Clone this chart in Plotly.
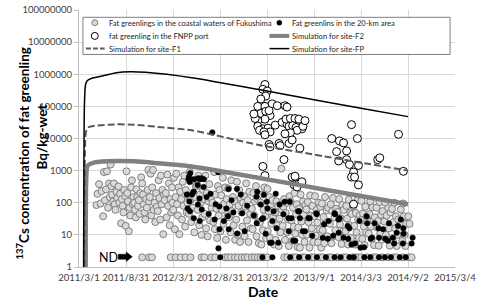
import plotly.graph_objects as go
import math

# ---------------- data ----------------
x_tick_vals = ["2011-03-01", "2011-08-31", "2012-03-01", "2012-08-31", "2013-03-02",
               "2013-09-01", "2014-03-03", "2014-09-02", "2015-03-04"]
x_tick_text = ["2011/3/1", "2011/8/31", "2012/3/1", "2012/8/31", "2013/3/2",
               "2013/9/1", "2014/3/3", "2014/9/2", "2015/3/4"]
y_tick_vals = [1, 10, 100, 1000, 10000, 100000, 1000000, 10000000, 100000000]
y_tick_text = ["1", "10", "100", "1000", "10000", "100000", "1000000", "10000000", "100000000"]

# Fat greenlings in the coastal waters of Fukushima (month -> (day, Bq/kg))
coastal = {
    "2011-05": [(8, 85), (12, 190), (18, 380), (24, 95), (28, 230)],
    "2011-06": [(3, 38), (6, 900), (10, 120), (14, 260), (18, 950), (22, 70), (26, 400), (29, 150)],
    "2011-07": [(2, 1550), (5, 330), (8, 180), (12, 110), (15, 400), (18, 90), (21, 60), (25, 220), (28, 140)],
    "2011-08": [(2, 320), (5, 100), (8, 190), (12, 23), (15, 130), (18, 80), (21, 50), (24, 250), (28, 160), (30, 19)],
    "2011-09": [(2, 950), (5, 200), (8, 110), (11, 13), (14, 70), (17, 40), (20, 300), (23, 500), (26, 90), (29, 150)],
    "2011-10": [(2, 100), (5, 60), (8, 35), (11, 260), (14, 150), (17, 80), (20, 120), (23, 45), (26, 200), (29, 620)],
    "2011-11": [(2, 400), (5, 180), (8, 90), (11, 50), (14, 30), (17, 130), (20, 70), (23, 250), (26, 1050), (29, 110)],
    "2011-12": [(2, 150), (5, 800), (8, 40), (11, 300), (14, 1050), (17, 60), (20, 100), (23, 25), (26, 200), (29, 75)],
    "2012-01": [(2, 55), (5, 500), (8, 140), (11, 30), (14, 700), (17, 90), (20, 250), (23, 10.5), (26, 180), (29, 120)],
    "2012-02": [(2, 200), (5, 35), (8, 750), (11, 80), (14, 400), (17, 20), (20, 130), (23, 50), (26, 300), (28, 100)],
    "2012-03": [(2, 60), (5, 600), (8, 15), (11, 150), (14, 800), (17, 90), (20, 40), (23, 300), (26, 10.5), (29, 220)],
    "2012-04": [(2, 130), (5, 30), (8, 450), (11, 80), (14, 700), (17, 18), (20, 250), (23, 50), (26, 100), (29, 170)],
    "2012-05": [(2, 45), (5, 900), (8, 120), (11, 25), (14, 500), (17, 70), (20, 200), (23, 12), (26, 150), (29, 320)],
    "2012-06": [(2, 350), (5, 60), (8, 700), (11, 20), (14, 180), (17, 100), (20, 10), (23, 35), (26, 250), (29, 130)],
    "2012-07": [(2, 45), (5, 700), (8, 16), (11, 200), (14, 9), (17, 110), (20, 380), (23, 28), (26, 140), (29, 70)],
    "2012-08": [(2, 100), (5, 25), (8, 900), (11, 15), (14, 180), (17, 65), (20, 8), (23, 330), (26, 40), (29, 250)],
    "2012-09": [(2, 13), (5, 170), (8, 60), (11, 600), (14, 22), (17, 95), (20, 300), (23, 7), (26, 130), (29, 38)],
    "2012-10": [(2, 280), (5, 35), (8, 90), (11, 12), (14, 500), (17, 55), (20, 150), (23, 20), (26, 110), (29, 7)],
    "2012-11": [(2, 30), (5, 450), (8, 10), (11, 80), (14, 250), (17, 6), (20, 140), (23, 50), (26, 18), (29, 100)],
    "2012-12": [(2, 160), (5, 9), (8, 75), (11, 400), (14, 28), (17, 120), (20, 6), (23, 220), (26, 45), (29, 16)],
    "2013-01": [(2, 65), (5, 15), (8, 200), (11, 40), (14, 110), (18, 330), (20, 9), (23, 130), (26, 25), (29, 5.5)],
    "2013-02": [(2, 24), (5, 100), (8, 5), (11, 180), (14, 14), (17, 60), (20, 300), (23, 38), (26, 8), (28, 90)],
    "2013-03": [(4, 270), (5, 13), (8, 55), (11, 150), (14, 8), (17, 90), (20, 22), (23, 120), (26, 35), (29, 5)],
    "2013-04": [(2, 50), (5, 7), (8, 110), (11, 20), (14, 80), (17, 4.5), (20, 32), (23, 12), (27, 1160), (29, 60)],
    "2013-05": [(2, 19), (5, 75), (8, 130), (11, 7), (14, 48), (17, 100), (20, 12), (23, 30), (26, 4.5), (29, 160)],
    "2013-06": [(2, 110), (5, 28), (8, 6.5), (11, 70), (14, 18), (17, 200), (20, 11), (23, 45), (26, 90), (29, 4.2)],
    "2013-07": [(2, 17), (5, 65), (8, 4), (11, 180), (14, 26), (17, 10), (20, 110), (23, 42), (26, 6), (29, 85)],
    "2013-08": [(2, 62), (5, 10), (8, 105), (11, 25), (14, 4), (17, 170), (20, 40), (23, 16), (26, 80), (29, 6)],
    "2013-09": [(2, 38), (5, 160), (8, 9.5), (11, 60), (14, 24), (17, 5.8), (20, 100), (23, 15), (26, 75), (29, 4)],
    "2013-10": [(2, 95), (5, 14), (8, 36), (11, 5.5), (14, 150), (17, 23), (20, 58), (23, 9), (26, 70)],
    "2013-11": [(2, 22), (5, 90), (8, 5.5), (11, 55), (14, 140), (17, 9), (20, 35), (23, 14), (26, 65)],
    "2013-12": [(2, 52), (5, 8.5), (8, 130), (11, 21), (14, 33), (17, 5.2), (20, 85), (23, 13), (26, 60)],
    "2014-01": [(2, 13), (5, 80), (8, 32), (11, 5), (14, 125), (17, 20), (20, 50), (23, 8), (26, 45)],
    "2014-02": [(2, 78), (5, 19), (8, 5), (11, 48), (14, 12), (17, 120), (20, 30), (23, 8), (26, 40)],
    "2014-03": [(2, 29), (5, 115), (8, 7.5), (11, 46), (14, 18), (17, 4.8), (20, 75), (23, 12), (26, 38)],
    "2014-04": [(2, 11), (5, 44), (8, 110), (11, 18), (14, 7.5), (17, 72), (20, 28), (23, 4.8), (26, 35)],
    "2014-05": [(2, 70), (5, 17), (8, 27), (11, 4.6), (14, 105), (17, 11), (20, 42), (23, 7), (26, 55)],
    "2014-06": [(2, 26), (5, 100), (8, 10), (11, 40), (14, 7), (17, 68), (20, 16), (23, 4.6), (26, 50)],
    "2014-07": [(2, 65), (5, 6.5), (8, 25), (11, 100), (14, 16), (17, 38), (20, 4.5), (23, 10), (26, 30)],
    "2014-08": [(2, 15), (5, 62), (8, 24), (11, 6.5), (14, 95), (17, 38), (20, 10), (23, 4.5), (26, 22)],
    "2014-09": [(3, 38), (8, 22)],
}

# Not-detected samples, plotted at 2 Bq/kg
nd_value = 2
coastal_nd_dates = [
    "2011-11-02", "2011-11-29", "2011-12-10", "2012-02-21", "2012-03-12", "2012-03-31", "2012-04-19",
    "2012-05-08", "2012-06-20", "2012-07-01", "2012-07-28", "2012-08-12", "2012-09-20", "2012-10-01",
    "2012-10-13", "2012-10-28", "2012-11-09", "2012-11-24", "2012-12-06", "2012-12-17", "2013-01-02",
    "2013-01-13", "2013-01-25", "2013-02-05", "2013-02-17", "2013-03-04", "2013-05-08", "2013-05-20",
    "2013-06-12", "2013-06-23", "2013-07-17", "2013-07-28", "2013-08-20", "2013-09-01", "2013-09-24",
    "2013-10-05", "2013-10-28", "2013-11-09", "2013-12-02", "2013-12-25", "2014-01-05", "2014-01-28",
    "2014-02-09", "2014-02-21", "2014-03-04", "2014-03-27", "2014-04-19", "2014-05-01", "2014-05-24",
    "2014-06-16", "2014-07-09", "2014-07-20", "2014-08-13", "2014-09-05", "2014-09-16",
]
area20_nd_dates = [
    "2012-09-01", "2013-02-12", "2013-03-23", "2013-05-31", "2013-07-05", "2013-08-09", "2013-09-12",
    "2013-10-17", "2013-11-20", "2013-12-13", "2014-01-17", "2014-02-03", "2014-03-16", "2014-04-08",
    "2014-05-12", "2014-06-04", "2014-06-27", "2014-08-01", "2014-08-24",
]

# Fat greenlings in the 20-km area
area20 = [
    ("2012-04-24", 180), ("2012-04-27", 66), ("2012-05-01", 540), ("2012-05-02", 630), ("2012-05-04", 110),
    ("2012-05-05", 440), ("2012-05-06", 54), ("2012-05-07", 830), ("2012-05-14", 180), ("2012-05-20", 220),
    ("2012-05-21", 33), ("2012-05-22", 540), ("2012-06-05", 360), ("2012-06-06", 88), ("2012-06-07", 580),
    ("2012-06-12", 135), ("2012-06-13", 27), ("2012-06-15", 540), ("2012-06-20", 580), ("2012-06-21", 62),
    ("2012-06-28", 310), ("2012-06-29", 540), ("2012-07-10", 150), ("2012-07-18", 45), ("2012-07-25", 190),
    ("2012-08-01", 15500), ("2012-08-10", 30), ("2012-08-14", 90), ("2012-08-25", 3.8), ("2012-08-24", 890),
    ("2012-08-28", 77), ("2012-08-29", 15), ("2012-09-15", 27), ("2012-09-25", 66), ("2012-10-01", 38),
    ("2012-10-03", 270), ("2012-10-04", 15), ("2012-10-15", 120), ("2012-10-22", 50), ("2012-11-05", 270),
    ("2012-11-06", 11), ("2012-11-20", 180), ("2012-11-25", 47), ("2012-12-05", 13), ("2012-12-15", 80),
    ("2013-01-10", 40), ("2013-01-20", 155), ("2013-01-21", 23), ("2013-01-23", 219), ("2013-02-05", 88),
    ("2013-02-10", 31), ("2013-02-15", 33), ("2013-02-18", 178), ("2013-02-25", 10.8), ("2013-03-01", 108),
    ("2013-03-04", 66), ("2013-03-14", 5.7), ("2013-03-20", 5.7), ("2013-03-23", 27), ("2013-03-28", 54),
    ("2013-04-05", 190), ("2013-04-08", 16), ("2013-04-15", 5.7), ("2013-04-20", 88), ("2013-05-05", 44),
    ("2013-05-10", 108), ("2013-05-25", 33), ("2013-05-26", 13), ("2013-05-30", 108), ("2013-06-05", 33),
    ("2013-06-12", 6.6), ("2013-06-20", 6.6), ("2013-07-01", 54), ("2013-07-05", 54), ("2013-07-08", 33),
    ("2013-07-20", 13), ("2013-07-28", 13), ("2013-08-10", 33), ("2013-08-15", 33), ("2013-08-25", 9.4),
    ("2013-09-10", 47), ("2013-09-12", 44), ("2013-10-05", 8.2), ("2013-10-10", 21.6), ("2013-10-25", 7.6),
    ("2013-10-28", 27), ("2013-11-15", 9.4), ("2013-11-20", 47), ("2013-11-22", 44), ("2013-12-05", 30),
    ("2013-12-06", 11.6), ("2013-12-10", 33), ("2013-12-25", 8.2), ("2014-01-10", 19), ("2014-01-12", 7.6),
    ("2014-01-17", 16), ("2014-01-25", 5), ("2014-02-08", 5.4), ("2014-02-25", 27), ("2014-03-01", 4),
    ("2014-03-15", 4.1), ("2014-03-25", 38), ("2014-03-27", 23), ("2014-04-10", 7.6), ("2014-04-15", 8.2),
    ("2014-04-25", 23), ("2014-05-10", 16), ("2014-05-12", 8.2), ("2014-05-28", 15), ("2014-06-05", 7.6),
    ("2014-06-16", 6.6), ("2014-06-20", 23), ("2014-07-05", 8.2), ("2014-07-10", 5.4), ("2014-07-20", 11.6),
    ("2014-07-25", 19), ("2014-08-05", 30), ("2014-08-13", 5.4), ("2014-08-15", 16), ("2014-08-16", 10.8),
    ("2014-09-16", 5.4), ("2014-09-20", 8.2),
]

# fat greenling in the FNPP port
port = [
    ("2013-02-22", 480000), ("2013-02-14", 340000), ("2013-03-03", 300000), ("2013-02-25", 210000),
    ("2013-02-06", 170000), ("2013-01-25", 100000), ("2013-02-22", 100000), ("2013-03-22", 120000),
    ("2013-04-11", 105000), ("2013-05-11", 105000), ("2013-05-19", 95000), ("2013-01-20", 50000),
    ("2013-02-06", 60000), ("2013-02-25", 70000), ("2013-03-14", 52000), ("2013-02-22", 40000),
    ("2013-01-25", 36000), ("2013-01-15", 42000), ("2013-01-10", 58000), ("2013-03-10", 74000),
    ("2013-01-25", 24000), ("2013-02-14", 20000), ("2013-02-01", 18000), ("2013-03-06", 21000),
    ("2013-03-14", 16000), ("2013-02-18", 16000), ("2013-02-22", 13000), ("2013-04-03", 26000),
    ("2013-04-30", 32000), ("2013-05-19", 28000), ("2013-05-27", 24000), ("2013-05-15", 40000),
    ("2013-06-01", 42000), ("2013-06-19", 42000), ("2013-07-04", 40000), ("2013-06-10", 25000),
    ("2013-06-23", 22000), ("2013-07-16", 20000), ("2013-06-27", 18000), ("2013-06-01", 15000),
    ("2013-05-11", 14000), ("2013-07-20", 24000), ("2013-07-28", 36000), ("2013-03-10", 6500),
    ("2013-03-14", 5500), ("2013-04-18", 7000), ("2013-04-22", 6000), ("2013-05-27", 7000),
    ("2013-06-08", 9000), ("2013-07-08", 5000), ("2013-05-07", 2200), ("2013-02-14", 1350),
    ("2013-02-22", 700), ("2013-06-08", 630), ("2013-06-19", 670), ("2013-06-16", 360),
    ("2013-07-04", 380), ("2013-06-27", 310), ("2013-07-16", 450),
    ("2013-11-09", 10000), ("2013-12-09", 8400), ("2013-12-25", 7300), ("2013-11-28", 3900),
    ("2014-01-06", 4100), ("2013-12-06", 2000), ("2014-01-06", 2200), ("2014-01-17", 1550),
    ("2014-02-21", 1450), ("2014-02-02", 900), ("2014-01-25", 630), ("2014-02-06", 630),
    ("2014-02-21", 360), ("2014-02-02", 90), ("2014-01-25", 27000), ("2014-02-17", 10000),
    ("2014-05-07", 2200), ("2014-05-15", 2500), ("2014-07-27", 13500), ("2014-08-15", 950),
]

# Simulations (date, Bq/kg)
sim_f2 = [("2011-03-27", 1), ("2011-03-29", 500), ("2011-04-03", 1400), ("2011-05-01", 1800),
          ("2011-07-25", 2000), ("2011-10-01", 1950), ("2012-01-01", 1700), ("2012-05-13", 1350),
          ("2013-01-25", 600), ("2013-10-09", 260), ("2014-09-02", 90)]
sim_f1 = [("2011-03-22", 1), ("2011-03-24", 4000), ("2011-03-28", 16000), ("2011-04-05", 22000),
          ("2011-05-01", 25000), ("2011-07-25", 27500), ("2011-10-01", 27000), ("2012-01-01", 23000),
          ("2012-05-13", 18000), ("2013-01-25", 6400), ("2013-10-09", 2800), ("2014-09-02", 1000)]
sim_fp = [("2011-03-19", 1), ("2011-03-22", 100000), ("2011-03-26", 450000), ("2011-04-01", 620000),
          ("2011-04-20", 750000), ("2011-05-21", 850000), ("2011-07-25", 1120000), ("2011-09-15", 1200000),
          ("2011-11-15", 1150000), ("2012-05-13", 780000), ("2013-01-25", 340000), ("2013-09-01", 160000),
          ("2014-03-03", 88000), ("2014-09-02", 48000)]

legend_names = ["Fat greenlings in the coastal waters of Fukushima", "Fat greenlins in the 20-km area",
                "fat greenling in the FNPP port", "Simulation for site-F2",
                "Simulation for site-F1", "Simulation for site-FP"]

# ---------------- build ----------------
cx, cy = [], []
for m, pairs in coastal.items():
    for d, v in pairs:
        cx.append(f"{m}-{d:02d}")
        cy.append(v)
cx += coastal_nd_dates
cy += [nd_value] * len(coastal_nd_dates)

bx = [d for d, v in area20] + area20_nd_dates
by = [v for d, v in area20] + [nd_value] * len(area20_nd_dates)

FONT = "Lato"
fig = go.Figure()
fig.add_trace(go.Scatter(x=cx, y=cy, mode="markers", name=legend_names[0], showlegend=False,
                         marker=dict(size=7, color="#d9d9d9", line=dict(color="#7f7f7f", width=1))))
fig.add_trace(go.Scatter(x=bx, y=by, mode="markers", name=legend_names[1], showlegend=False,
                         marker=dict(size=5.5, color="#000000", line=dict(color="#000000", width=0.5))))
fig.add_trace(go.Scatter(x=[d for d, v in port], y=[v for d, v in port], mode="markers",
                         name=legend_names[2], showlegend=False,
                         marker=dict(size=8, color="#ffffff", line=dict(color="#000000", width=1))))
fig.add_trace(go.Scatter(x=[d for d, v in sim_f2], y=[v for d, v in sim_f2], mode="lines",
                         name=legend_names[3], showlegend=False,
                         line=dict(color="#808080", width=4.5, shape="spline", smoothing=0.6)))
fig.add_trace(go.Scatter(x=[d for d, v in sim_f1], y=[v for d, v in sim_f1], mode="lines",
                         name=legend_names[4], showlegend=False,
                         line=dict(color="#595959", width=2, dash="7px,3px", shape="spline", smoothing=0.6)))
fig.add_trace(go.Scatter(x=[d for d, v in sim_fp], y=[v for d, v in sim_fp], mode="lines",
                         name=legend_names[5], showlegend=False,
                         line=dict(color="#000000", width=1.5, shape="spline", smoothing=0.6)))

# ---------------- manual legend ----------------
box = dict(x0=0.0105, x1=0.9869, y0=0.827, y1=0.9715)
rows = [0.9506, 0.8992, 0.8498]
col_sym = [0.042, 0.5328]
col_line = [(0.0184, 0.0682), (0.5066, 0.5591)]
col_text = [0.0735, 0.5617]
shapes = [dict(type="rect", xref="paper", yref="paper", x0=box["x0"], x1=box["x1"], y0=box["y0"],
               y1=box["y1"], line=dict(color="#7f7f7f", width=1), fillcolor="#ffffff", layer="above")]
annotations = []


def circ(xp, yp, r, fill, lc, lw):
    return dict(type="circle", xref="paper", yref="paper", xsizemode="pixel", ysizemode="pixel",
                xanchor=xp, yanchor=yp, x0=-r, x1=r, y0=-r, y1=r, fillcolor=fill,
                line=dict(color=lc, width=lw), layer="above")


shapes.append(circ(col_sym[0], rows[0], 3, "#d9d9d9", "#7f7f7f", 1))
shapes.append(circ(col_sym[1], rows[0], 2.5, "#000000", "#000000", 0.5))
shapes.append(circ(col_sym[0], rows[1], 3.5, "#ffffff", "#000000", 1))
shapes.append(dict(type="line", xref="paper", yref="paper", x0=col_line[1][0], x1=col_line[1][1],
                   y0=rows[1], y1=rows[1], line=dict(color="#808080", width=4), layer="above"))
shapes.append(dict(type="line", xref="paper", yref="paper", x0=col_line[0][0], x1=col_line[0][1],
                   y0=rows[2], y1=rows[2], line=dict(color="#595959", width=2, dash="5px,2px"), layer="above"))
shapes.append(dict(type="line", xref="paper", yref="paper", x0=col_line[1][0], x1=col_line[1][1],
                   y0=rows[2], y1=rows[2], line=dict(color="#000000", width=1.5), layer="above"))
order = [(0, 0), (1, 0), (0, 1), (1, 1), (0, 2), (1, 2)]
for name, (c, r) in zip(legend_names, order):
    annotations.append(dict(xref="paper", yref="paper", x=col_text[c], y=rows[r], text=name,
                            showarrow=False, xanchor="left", yanchor="middle",
                            font=dict(family=FONT, size=7.6, color="#262626")))

# ND block arrow (pixel-sized path anchored next to the ND row)
shapes.append(dict(type="path", xref="paper", yref="paper", xsizemode="pixel", ysizemode="pixel",
                   xanchor=0.1417, yanchor=0.0399,
                   path="M-14,-2.5 L-6,-2.5 L-6,-4.8 L0,0 L-6,4.8 L-6,2.5 L-14,2.5 Z",
                   fillcolor="#000000", line=dict(color="#000000", width=0.5), layer="above"))

# axis titles
annotations.append(dict(xref="paper", yref="paper", x=-0.1496, y=0.441, textangle=-90,
                        text="<b><sup>137</sup>Cs concentration of fat greenling</b>", showarrow=False,
                        xanchor="center", yanchor="middle", font=dict(family=FONT, size=13.5, color="#000000")))
annotations.append(dict(xref="paper", yref="paper", x=-0.0971, y=0.5057, textangle=-90,
                        text="<b>Bq/kg-wet</b>", showarrow=False,
                        xanchor="center", yanchor="middle", font=dict(family=FONT, size=13.5, color="#000000")))
annotations.append(dict(xref="paper", yref="paper", x=0.492, y=-0.097, text="<b>Date</b>",
                        showarrow=False, xanchor="center", yanchor="middle",
                        font=dict(family=FONT, size=14, color="#000000")))
# ND label
annotations.append(dict(xref="x", yref="y", x="2011-06-22", y=math.log10(nd_value), text="ND",
                        showarrow=False, xanchor="center", yanchor="middle",
                        font=dict(family=FONT, size=12.5, color="#000000")))

fig.update_layout(
    width=480, height=304, margin=dict(l=79, r=20, t=4, b=37),
    paper_bgcolor="#ffffff", plot_bgcolor="#ffffff",
    shapes=shapes, annotations=annotations, showlegend=False,
    xaxis=dict(type="date", range=["2011-03-01", "2015-03-04"], tickmode="array",
               tickvals=x_tick_vals, ticktext=x_tick_text, showgrid=True, gridcolor="#d9d9d9",
               gridwidth=1, showline=True, linecolor="#bfbfbf", ticks="outside", ticklen=2,
               tickcolor="rgba(0,0,0,0)", zeroline=False, tickangle=0,
               ticklabeloverflow="allow",
               tickfont=dict(family=FONT, size=9.5, color="#404040")),
    yaxis=dict(type="log", range=[0, 8], tickmode="array", tickvals=y_tick_vals, ticktext=y_tick_text,
               showgrid=True, gridcolor="#d9d9d9", gridwidth=1, showline=True, linecolor="#bfbfbf",
               ticks="outside", ticklen=4, tickcolor="#bfbfbf", zeroline=False, ticklabeloverflow="allow",
               tickfont=dict(family=FONT, size=9.5, color="#404040")),
)

fig.write_html("out.html", config={"displayModeBar": False},
               post_script="document.body.style.margin='0';document.body.style.overflow='hidden';")
